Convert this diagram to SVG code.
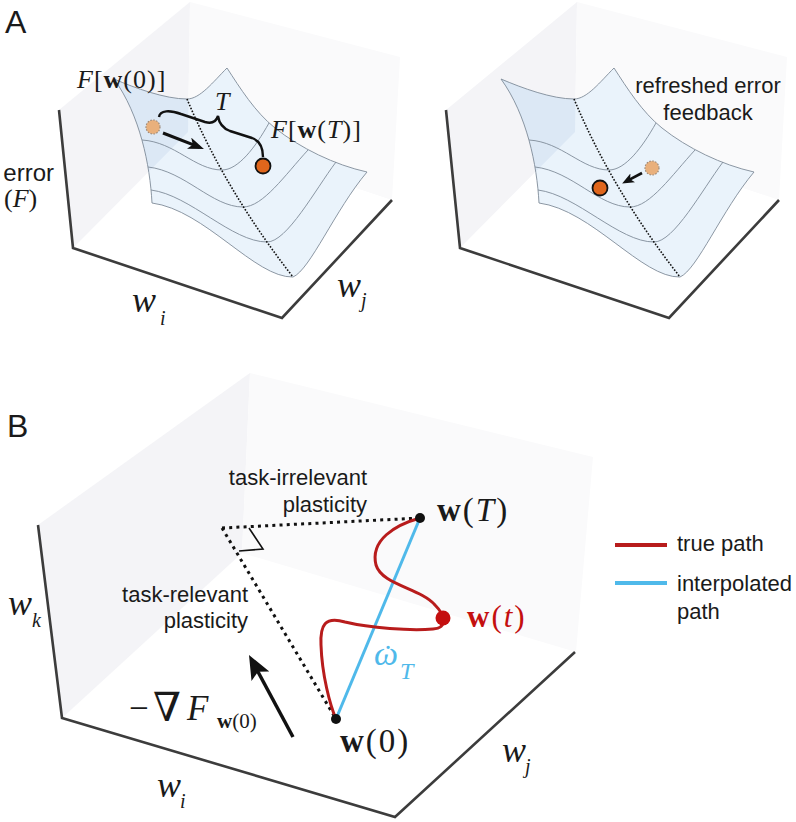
<svg xmlns="http://www.w3.org/2000/svg" xmlns:xlink="http://www.w3.org/1999/xlink" width="796" height="822" viewBox="0 0 796 822">
<style>
.sans{font-family:"Liberation Sans",Arial,sans-serif;fill:#1a1a1a}
.ser{font-family:"Liberation Serif","DejaVu Serif",serif;fill:#1a1a1a}
.it{font-style:italic}
.bf{font-weight:bold}
.axis{fill:none;stroke:#3c3c3c;stroke-width:2.6;stroke-linejoin:miter}
.wallL{fill:#f4f4f7}
.wallR{fill:#fafafb}
.cont{fill:none;stroke:#7f8b99;stroke-width:0.9}
.valley{fill:none;stroke:#111;stroke-width:1.6;stroke-dasharray:1.6 1.6}
.pdot{fill:none;stroke:#111;stroke-width:3;stroke-dasharray:3 4.2}
</style>
<defs>
<marker id="ah" markerUnits="userSpaceOnUse" markerWidth="16" markerHeight="12" refX="11" refY="6" orient="auto">
<path d="M0,0 L16,6 L0,12 L4,6 Z" fill="#111"/>
</marker>
<marker id="ahS" markerUnits="userSpaceOnUse" markerWidth="12" markerHeight="10" refX="8" refY="5" orient="auto">
<path d="M0,0 L12,5 L0,10 L3,5 Z" fill="#111"/>
</marker>
<marker id="ahB" markerUnits="userSpaceOnUse" markerWidth="24" markerHeight="20" refX="17" refY="10" orient="auto">
<path d="M0,0 L24,10 L0,20 L5,10 Z" fill="#111"/>
</marker>
<clipPath id="wallClip" clipPathUnits="userSpaceOnUse">
<polygon points="59,110 73,248 188,132 190,2"/>
</clipPath>
<g id="walls">
<polygon class="wallL" points="59,110 73,248 188,132 190,2"/>
<polygon class="wallR" points="190,2 400,57 392,200 188,132"/>
<path class="axis" d="M59,110 L73,248 L282,318 L392,200"/>
</g>
<path id="outline" d="M114,79 C135,88 165,99 187,99 C200,99 213,82 227,68 C240,88 255,112 275,128 C300,148 335,165 367,172 C335,210 310,270 293,277 C255,278 205,210 152,203 C150,165 140,115 114,79 Z"/>
<g id="surf">
<use xlink:href="#outline" href="#outline" fill="#eaf3fb"/>
<use xlink:href="#outline" href="#outline" fill="#dce8f5" clip-path="url(#wallClip)"/>
<path class="cont" d="M142,140 C175,142 195,170 222,170 C238,170 255,148 269,123"/>
<path class="cont" d="M148,167 C185,171 212,207 243,207 C263,207 285,175 308,150"/>
<path class="cont" d="M151,190 C190,195 232,242 267,242 C287,242 315,190 336,162"/>
<use xlink:href="#outline" href="#outline" fill="none" stroke="#7f8b99" stroke-width="0.9"/>
<path class="valley" d="M187,99 Q225,190 293,277"/>
</g>
</defs>

<g id="panelA-left">
<use id="walls-left" xlink:href="#walls" href="#walls"/>
<use id="surface-left" xlink:href="#surf" href="#surf"/>
<text class="sans" x="5" y="33" font-size="32">A</text>
<text class="sans" x="54" y="181" font-size="24" text-anchor="end">error</text>
<text class="ser" x="4" y="207" font-size="26">(<tspan class="it">F</tspan>)</text>
<text class="ser" x="77" y="88" font-size="26" letter-spacing="1"><tspan class="it">F</tspan>[<tspan class="bf">w</tspan>(0)]</text>
<text class="ser it" x="215" y="110" font-size="26">T</text>
<text class="ser" x="271" y="138" font-size="26" letter-spacing="1"><tspan class="it">F</tspan>[<tspan class="bf">w</tspan>(<tspan class="it">T</tspan>)]</text>
<path d="M159,117 C160,110 170,110 181,114 L205,122 C212,124 216,122 218,116 C219,123 222,128 230,131 L252,138 C260,141 263,148 263,157" fill="none" stroke="#111" stroke-width="2.4"/>
<circle cx="153" cy="127" r="7" fill="#e9b07c" stroke="#9a8878" stroke-width="1.2" stroke-dasharray="1.5 1.5"/>
<line x1="163" y1="133" x2="199.3" y2="147.2" stroke="#111" stroke-width="3" marker-end="url(#ah)"/>
<circle cx="263" cy="166" r="7.5" fill="#e0661c" stroke="#111" stroke-width="1.8"/>
<text class="ser it" x="132" y="312" font-size="36">w</text>
<text class="ser it" x="160" y="325" font-size="20">i</text>
<text class="ser it" x="337" y="297" font-size="36">w</text>
<text class="ser it" x="361" y="307" font-size="20">j</text>
</g>

<g id="panelA-right">
<use id="walls-right" xlink:href="#walls" href="#walls" x="387"/>
<use id="surface-right" xlink:href="#surf" href="#surf" x="387"/>
<text class="sans" x="708" y="93" font-size="22" text-anchor="middle">refreshed error</text>
<text class="sans" x="708" y="120" font-size="22" text-anchor="middle">feedback</text>
<circle cx="652" cy="168" r="7" fill="#e9b07c" stroke="#9a8878" stroke-width="1.2" stroke-dasharray="1.5 1.5"/>
<line x1="642" y1="173" x2="625.7" y2="181.6" stroke="#111" stroke-width="2.6" marker-end="url(#ahS)"/>
<circle cx="600" cy="188" r="7.5" fill="#e0661c" stroke="#111" stroke-width="1.8"/>
</g>

<g id="panelB">
<polygon class="wallL" points="38,525 62,718 242,553 250,373"/>
<polygon class="wallR" points="250,373 593,457 576,652 242,553"/>
<path class="axis" d="M38,525 L62,718 L395,817 L575,652" stroke-width="3"/>
<text class="sans" x="7" y="437" font-size="32">B</text>
<text class="ser it" x="8" y="615" font-size="36">w</text>
<text class="ser it" x="32" y="627" font-size="20">k</text>
<text class="ser it" x="157" y="797" font-size="36">w</text>
<text class="ser it" x="180" y="808" font-size="20">i</text>
<text class="ser it" x="502" y="762" font-size="36">w</text>
<text class="ser it" x="525" y="773" font-size="20">j</text>

<g id="connectors">
<line class="pdot" x1="222" y1="528" x2="420" y2="518"/>
<line class="pdot" x1="222" y1="528" x2="336" y2="719"/>
<path d="M249,528 L263,549 L239,551" fill="none" stroke="#111" stroke-width="1.6"/>
<line id="interp" x1="336" y1="719" x2="420" y2="518" stroke="#4fb9ea" stroke-width="3"/>
<path id="truepath" d="M420,518 C395,525 370,540 376,565 C382,585 420,588 435,605 C445,615 448,628 433,629 C410,631 370,628 345,622 C325,616 320,625 321,645 C322,675 330,705 336,719" fill="none" stroke="#b81c1c" stroke-width="3"/>
<line x1="293" y1="737" x2="252.3" y2="661.2" stroke="#111" stroke-width="3.5" marker-end="url(#ahB)"/>
</g>

<g id="node-wT">
<circle cx="420" cy="518" r="5" fill="#111"/>
<text class="ser" x="437" y="521" font-size="33" letter-spacing="2"><tspan class="bf">w</tspan>(<tspan class="it">T</tspan>)</text>
</g>
<g id="node-w0">
<circle cx="336" cy="719" r="5" fill="#111"/>
<text class="ser" x="340" y="752" font-size="33" letter-spacing="2"><tspan class="bf">w</tspan>(0)</text>
</g>
<g id="node-wt">
<circle cx="443" cy="618" r="7.5" fill="#c40f0f"/>
<text class="ser" x="467" y="627" font-size="31" letter-spacing="2" style="fill:#c40f0f"><tspan class="bf">w</tspan>(<tspan class="it">t</tspan>)</text>
</g>
<g id="omega">
<text class="ser it" x="374" y="665" font-size="34" style="fill:#4fb9ea">ω<tspan x="383" dy="1" font-style="normal" font-size="30">˙</tspan><tspan x="400" y="679" font-size="24">T</tspan></text>
</g>

<g id="labels-B">
<text class="sans" x="367" y="485" font-size="22" text-anchor="end">task-irrelevant</text>
<text class="sans" x="367" y="512" font-size="22" text-anchor="end">plasticity</text>
<text class="sans" x="248" y="602" font-size="22" text-anchor="end">task-relevant</text>
<text class="sans" x="248" y="628" font-size="22" text-anchor="end">plasticity</text>
<text class="ser" x="129" y="720" font-size="35">−</text>
<text x="153" y="721" font-size="40" style="font-family:'DejaVu Serif',serif;fill:#1a1a1a">∇</text>
<text class="ser it" x="187" y="720" font-size="35">F</text>
<text class="ser" x="217" y="728" font-size="21"><tspan class="bf">w</tspan>(0)</text>
</g>

<g id="legend">
<line x1="615" y1="545" x2="667" y2="545" stroke="#b81c1c" stroke-width="4"/>
<text class="sans" x="677" y="551" font-size="22">true path</text>
<line x1="615" y1="583" x2="667" y2="583" stroke="#4fb9ea" stroke-width="4"/>
<text class="sans" x="677" y="591" font-size="22">interpolated</text>
<text class="sans" x="677" y="619" font-size="22">path</text>
</g>
</g>
</svg>
